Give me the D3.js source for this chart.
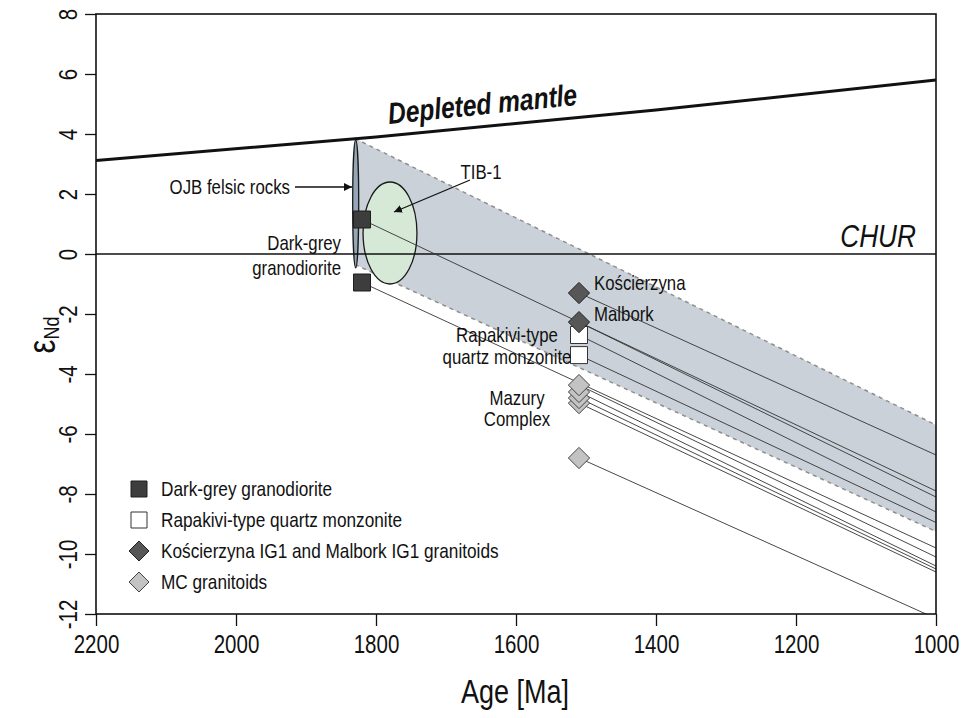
<!DOCTYPE html>
<html>
<head>
<meta charset="utf-8">
<script src="https://cdn.jsdelivr.net/npm/d3@7"></script>
<style>
  body { margin: 0; background: #fff; }
  svg text { font-family: "Liberation Sans", Arial, sans-serif; fill: #111; }
</style>
</head>
<body>
<svg id="chart" width="974" height="718"></svg>
<script>
// Valores (edad en Ma, epsilon Nd)
const xTicks = [2200, 2000, 1800, 1600, 1400, 1200, 1000];
const yTicks = [-12, -10, -8, -6, -4, -2, 0, 2, 4, 6, 8];

// Manto empobrecido
const dmAge = [2200, 1800, 1400, 1000];
const dmEps = [3.12, 3.9, 4.8, 5.8];

// Envolvente gris (banda)
const bandAge = [1830, 1000, 1000, 1830];
const bandEps = [3.85, -5.7, -9.25, -0.35];

// Muestras: tipo, edad, eNd inicial, eNd a 1000 Ma
const sampleType = ['gd', 'gd', 'kos', 'kos', 'rap', 'rap', 'mc', 'mc', 'mc', 'mc', 'mc'];
const sampleAge  = [1820, 1820, 1510, 1510, 1510, 1510, 1510, 1510, 1510, 1510, 1510];
const sampleEps  = [1.15, -0.95, -1.3, -2.27, -2.7, -3.37, -4.37, -4.6, -4.8, -4.97, -6.8];
const sampleEnd  = [-7.9, -9.8, -6.7, -8.1, -8.6, -8.95, -10.1, -10.4, -10.5, -10.6, -12.15];

// Elipses: OJB y TIB-1 (centro edad, centro eNd, radio edad, radio eNd)
const ojbEllipse = [1829, 1.67, 4.3, 2.13];
const tibEllipse = [1780, 0.7, 38.5, 1.7];

const legendLabels = ['Dark-grey granodiorite', 'Rapakivi-type quartz monzonite',
                      'Kościerzyna IG1 and Malbork IG1 granitoids', 'MC granitoids'];
const legendTypes = ['gd', 'rap', 'kos', 'mc'];

const styles = {
    gd:  {shape: 'square',  fill: '#3d3d3d', stroke: '#1e1e1e'},
    rap: {shape: 'square',  fill: '#ffffff', stroke: '#333333'},
    kos: {shape: 'diamond', fill: '#575757', stroke: '#222222'},
    mc:  {shape: 'diamond', fill: '#c3c3c3', stroke: '#444444'}
};

// la fuente original es estrecha: se comprime la Liberation Sans
const NARROW = 'scale(0.82,1)';

const svg = d3.select('#chart');
const x = d3.scaleLinear().domain([2200, 1000]).range([96, 936]);
const y = d3.scaleLinear().domain([-12, 8]).range([614, 14]);

svg.append('defs').append('clipPath').attr('id', 'plot-clip')
    .append('rect').attr('x', x(2200)).attr('y', y(8))
    .attr('width', x(1000) - x(2200)).attr('height', y(-12) - y(8));

svg.append('defs').append('marker')
    .attr('id', 'arrow').attr('viewBox', '0 0 10 10')
    .attr('refX', 10).attr('refY', 5)
    .attr('markerWidth', 8).attr('markerHeight', 8)
    .attr('markerUnits', 'userSpaceOnUse')
    .attr('orient', 'auto')
    .append('path').attr('d', 'M0,0 L10,5 L0,10 Z').attr('fill', '#111');

const plot = svg.append('g').attr('clip-path', 'url(#plot-clip)');

// Banda gris
const bandPts = bandAge.map((a, i) => [x(a), y(bandEps[i])]);
plot.append('path')
    .attr('d', d3.line()(bandPts) + 'Z')
    .attr('fill', '#cbd1d8');
plot.append('path')
    .attr('d', d3.line()([bandPts[0], bandPts[1]]))
    .attr('stroke', '#8e8e8e').attr('stroke-width', 1.5)
    .attr('stroke-dasharray', '4,4').attr('fill', 'none');
plot.append('path')
    .attr('d', d3.line()([bandPts[3], bandPts[2]]))
    .attr('stroke', '#8e8e8e').attr('stroke-width', 1.5)
    .attr('stroke-dasharray', '4,4').attr('fill', 'none');

// Elipses
function drawEllipse(e, fill) {
    plot.append('ellipse')
        .attr('cx', x(e[0])).attr('cy', y(e[1]))
        .attr('rx', Math.abs(x(e[0] + e[2]) - x(e[0])))
        .attr('ry', Math.abs(y(e[1] + e[3]) - y(e[1])))
        .attr('fill', fill).attr('stroke', '#1a1a1a').attr('stroke-width', 1.3);
}
drawEllipse(tibEllipse, '#d6e9d6');
drawEllipse(ojbEllipse, '#95a7b6');

// CHUR
plot.append('line')
    .attr('x1', x(2200)).attr('x2', x(1000))
    .attr('y1', y(0)).attr('y2', y(0))
    .attr('stroke', '#111').attr('stroke-width', 1.3);

// Manto empobrecido
plot.append('path')
    .datum(dmAge.map((a, i) => [a, dmEps[i]]))
    .attr('d', d3.line().x(d => x(d[0])).y(d => y(d[1])))
    .attr('stroke', '#111').attr('stroke-width', 3).attr('fill', 'none');

// Lineas de evolucion
plot.selectAll('.evo')
    .data(sampleAge)
    .enter().append('line')
    .attr('class', 'evo')
    .attr('x1', d => x(d)).attr('y1', (d, i) => y(sampleEps[i]))
    .attr('x2', x(1000)).attr('y2', (d, i) => y(sampleEnd[i]))
    .attr('stroke', '#333').attr('stroke-width', 0.9);

// Simbolos
function symbolPath(shape, cx, cy, s) {
    if (shape === 'square') {
        return `M${cx - s},${cy - s}H${cx + s}V${cy + s}H${cx - s}Z`;
    }
    const r = s * 1.25;
    return `M${cx},${cy - r}L${cx + r},${cy}L${cx},${cy + r}L${cx - r},${cy}Z`;
}

const order = d3.range(sampleAge.length).reverse();
svg.selectAll('.sym')
    .data(order)
    .enter().append('path')
    .attr('class', 'sym')
    .attr('d', i => symbolPath(styles[sampleType[i]].shape, x(sampleAge[i]), y(sampleEps[i]), 8.5))
    .attr('fill', i => styles[sampleType[i]].fill)
    .attr('stroke', i => styles[sampleType[i]].stroke)
    .attr('stroke-width', 1);

// Ejes
const xAxis = svg.append('g')
    .attr('transform', `translate(0,${y(-12)})`)
    .call(d3.axisBottom(x).tickValues(xTicks).tickSize(12).tickPadding(9).tickFormat(d => String(d)));
xAxis.select('.domain').remove();
xAxis.selectAll('line').attr('stroke', '#111').attr('stroke-width', 1.3);
xAxis.selectAll('text').attr('font-size', 25).attr('fill', '#111').attr('transform', NARROW);

const yAxis = svg.append('g')
    .attr('transform', `translate(${x(2200)},0)`)
    .call(d3.axisLeft(y).tickValues(yTicks).tickSize(11).tickFormat(d => String(d)));
yAxis.select('.domain').remove();
yAxis.selectAll('line').attr('stroke', '#111').attr('stroke-width', 1.3);
yAxis.selectAll('text')
    .attr('font-size', 25).attr('fill', '#111')
    .attr('x', 0).attr('y', -19).attr('dy', 0)
    .attr('text-anchor', 'middle')
    .attr('transform', 'rotate(-90) ' + NARROW);

// Marco
svg.append('rect')
    .attr('x', x(2200)).attr('y', y(8))
    .attr('width', x(1000) - x(2200)).attr('height', y(-12) - y(8))
    .attr('fill', 'none').attr('stroke', '#111').attr('stroke-width', 1.6);

// Textos comprimidos
function ntext(px, py, size, anchor, rot) {
    return svg.append('text')
        .attr('transform', `translate(${px},${py}) rotate(${rot || 0}) ${NARROW}`)
        .attr('font-size', size).attr('text-anchor', anchor);
}

// Titulos de ejes
ntext((x(2200) + x(1000)) / 2 - 1, 703, 33, 'middle').text('Age [Ma]');

const yl = ntext(55, 335, 0, 'middle', -90);
yl.append('tspan').attr('font-size', 38).text('ε');
yl.append('tspan').attr('font-size', 22).attr('dy', 4).text('Nd');

// Etiquetas
const dmAngle = Math.atan2(y(dmEps[3]) - y(dmEps[1]), x(1000) - x(1800)) * 180 / Math.PI;
ntext(389, 124, 30, 'start', dmAngle)
    .attr('font-weight', 'bold').attr('font-style', 'italic')
    .text('Depleted mantle');

ntext(916, y(0) - 7, 32, 'end').attr('font-style', 'italic').text('CHUR');

function label(lines, xx, yy, anchor, lh) {
    const t = ntext(xx, yy, 20.5, anchor);
    lines.forEach((s, i) => {
        t.append('tspan').attr('x', 0).attr('y', i * lh).text(s);
    });
}
label(['OJB felsic rocks'], 290, 194, 'end', 0);
label(['TIB-1'], 481, 179, 'middle', 0);
label(['Dark-grey', 'granodiorite'], 341, 250, 'end', 25);
label(['Kościerzyna'], 594, 290, 'start', 0);
label(['Malbork'], 594, 321, 'start', 0);
label(['Rapakivi-type', 'quartz monzonite'], 507, 342, 'middle', 22);
label(['Mazury', 'Complex'], 517, 405, 'middle', 21);

// Flechas
svg.append('line')
    .attr('x1', 295).attr('y1', 187).attr('x2', 352).attr('y2', 187)
    .attr('stroke', '#111').attr('stroke-width', 1.3)
    .attr('marker-end', 'url(#arrow)');
svg.append('line')
    .attr('x1', 470).attr('y1', 180).attr('x2', 394).attr('y2', 212)
    .attr('stroke', '#111').attr('stroke-width', 1.3)
    .attr('marker-end', 'url(#arrow)');

// Leyenda
legendTypes.forEach((t, i) => {
    const cy = 489 + i * 31;
    svg.append('path')
        .attr('d', symbolPath(styles[t].shape, 139, cy, 8))
        .attr('fill', styles[t].fill).attr('stroke', styles[t].stroke).attr('stroke-width', 1);
    ntext(161, cy + 7, 21, 'start').text(legendLabels[i]);
});
</script>
</body>
</html>
